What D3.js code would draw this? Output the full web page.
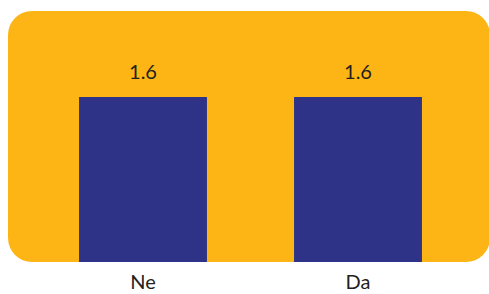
<!DOCTYPE html>
<html>
<head>
<script src="https://d3js.org/d3.v7.min.js"></script>
<style>
  body { margin: 0; background: #fff; }
  text { font-family: "Lato", "Open Sans", sans-serif; }
</style>
</head>
<body>
<div id="chart"></div>
<script>
  // data
  var categories = ["Ne", "Da"];
  var values = [1.6, 1.6];
  var valueLabels = ["1.6", "1.6"];

  var width = 489, height = 294;

  var svg = d3.select("#chart")
    .append("svg")
    .attr("width", width)
    .attr("height", height);

  // orange panel behind the bars
  svg.append("rect")
    .attr("x", 8)
    .attr("y", 11)
    .attr("width", 482)
    .attr("height", 251)
    .attr("rx", 24)
    .attr("fill", "#FDB515");

  var x = d3.scaleBand()
    .domain(categories)
    .range([35.5, 465.5])
    .paddingInner(0.405)
    .paddingOuter(0.2025);

  var y = d3.scaleLinear()
    .domain([0, 2.5])
    .range([262, 262 - 165 * 2.5 / 1.6]);

  svg.selectAll(".bar")
    .data(values)
    .enter().append("rect")
    .attr("class", "bar")
    .attr("x", function (d, i) { return x(categories[i]); })
    .attr("width", x.bandwidth())
    .attr("y", function (d) { return y(d); })
    .attr("height", function (d) { return y(0) - y(d); })
    .attr("fill", "#2E3387");

  svg.selectAll(".val")
    .data(values)
    .enter().append("text")
    .attr("class", "val")
    .attr("x", function (d, i) { return x(categories[i]) + x.bandwidth() / 2; })
    .attr("y", function (d) { return y(d) - 18; })
    .attr("text-anchor", "middle")
    .attr("font-size", 20)
    .attr("fill", "#231F20")
    .text(function (d, i) { return valueLabels[i]; });

  // category axis, no line or ticks
  var xAxis = svg.append("g")
    .attr("transform", "translate(0,262)")
    .call(d3.axisBottom(x).tickSize(0).tickPadding(13));
  xAxis.select(".domain").remove();
  xAxis.selectAll("text")
    .attr("font-size", 20)
    .attr("font-family", "Lato, 'Open Sans', sans-serif")
    .attr("fill", "#231F20");
</script>
</body>
</html>
